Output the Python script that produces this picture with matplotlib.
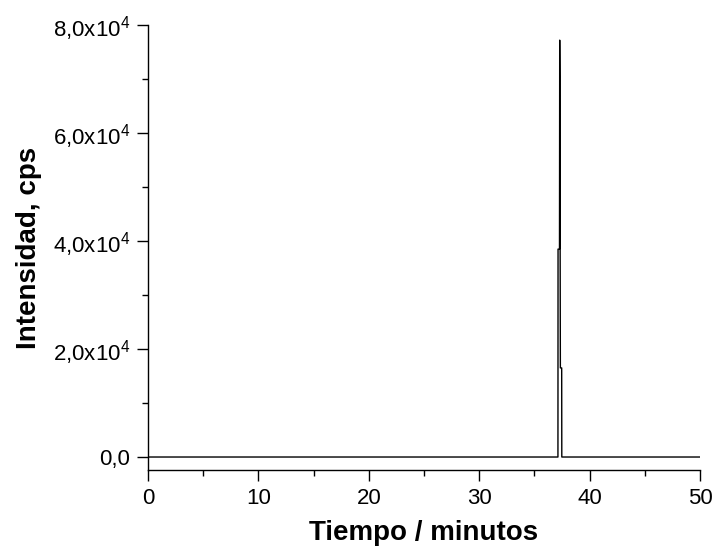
import matplotlib
matplotlib.use("Agg")
import matplotlib.pyplot as plt
from matplotlib.ticker import MultipleLocator, FuncFormatter

plt.rcParams['font.family'] = ['Liberation Sans', 'DejaVu Sans']
plt.rcParams['mathtext.fontset'] = 'custom'
plt.rcParams['mathtext.rm'] = 'Liberation Sans'

# cromatograma: tiempo (min) vs intensidad (cps)
tiempo = [0, 37.13, 37.14, 37.27, 37.29, 37.31, 37.33, 37.35, 37.47, 37.48, 50]
intensidad = [0, 0, 38500, 38500, 77200, 70400, 38500, 16500, 16500, 0, 0]

fig = plt.figure(figsize=(7.16, 5.5), dpi=100)
ax = fig.add_axes([0.2067, 0.1455, 0.771, 0.809])

ax.plot(tiempo, intensidad, color='black', lw=1.0)

ax.set_xlim(0, 50)
ax.set_ylim(-2400, 80000)

ax.xaxis.set_major_locator(MultipleLocator(10))
ax.xaxis.set_minor_locator(MultipleLocator(5))
ax.yaxis.set_major_locator(MultipleLocator(20000))
ax.yaxis.set_minor_locator(MultipleLocator(10000))


def fmt_y(v, pos):
    if v == 0:
        return '0,0'
    e = 4
    m = v / 10**e
    return ('%.1f' % m).replace('.', ',') + 'x10$^{%d}$' % e


ax.yaxis.set_major_formatter(FuncFormatter(fmt_y))

for s in ['top', 'right']:
    ax.spines[s].set_visible(False)
for s in ['left', 'bottom']:
    ax.spines[s].set_linewidth(1.0)

ax.tick_params(which='major', direction='out', length=8, width=1, labelsize=16, colors='black')
ax.tick_params(which='minor', direction='out', length=4, width=1)
ax.tick_params(axis='y', pad=5)
ax.tick_params(axis='x', pad=5)

ax.set_xlabel('Tiempo / minutos', fontsize=20, fontweight='bold', labelpad=8)
ax.set_ylabel('Intensidad, cps', fontsize=20, fontweight='bold', labelpad=8)

plt.savefig('out.png', dpi=100)
